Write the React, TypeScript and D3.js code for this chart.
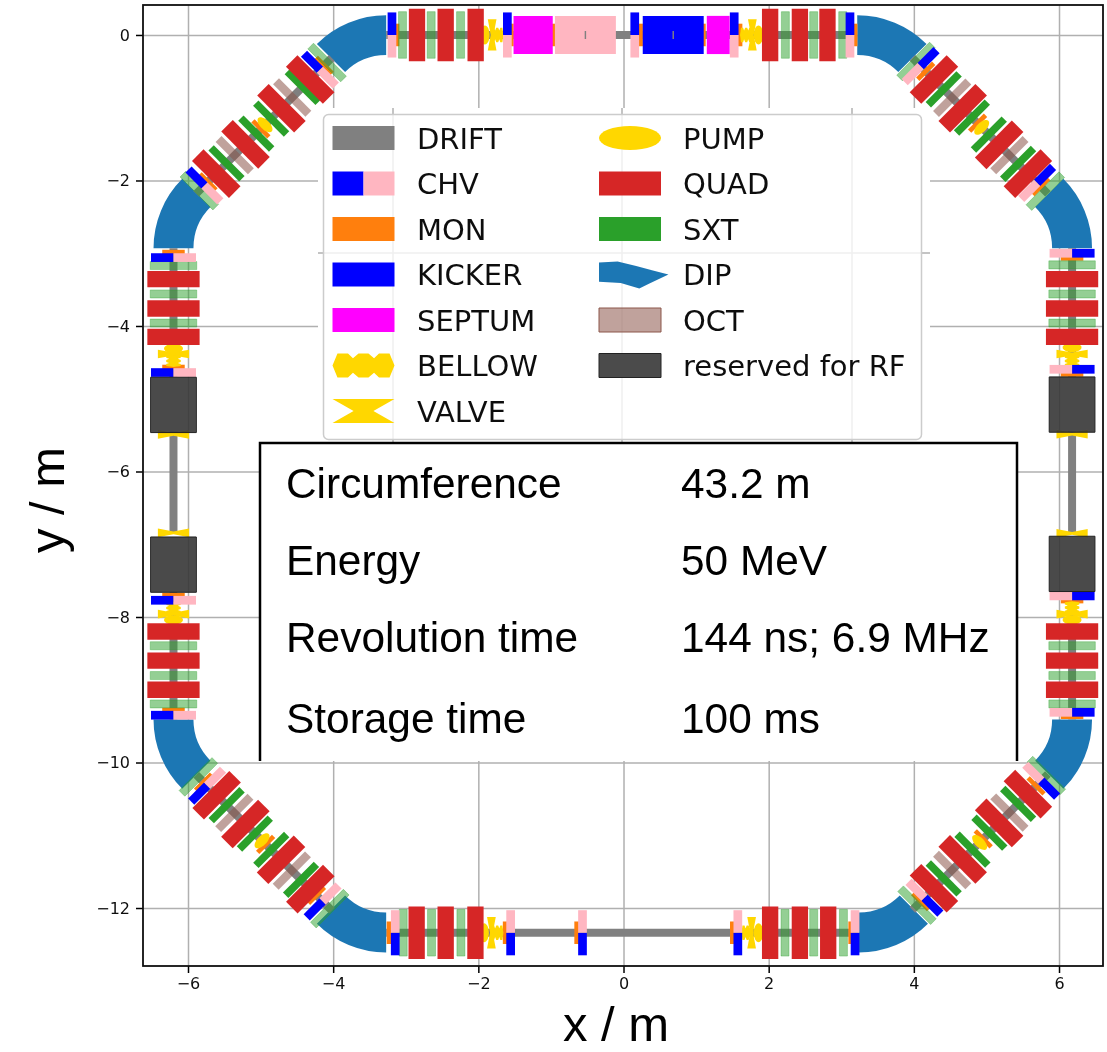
// App.tsx - storage ring layout, lattice positions (metres)
import React, { useEffect, useRef } from 'react';
import * as d3 from 'd3';

const xTicks = [-6, -4, -2, 0, 2, 4, 6];
const yTicks = [0, -2, -4, -6, -8, -10, -12];

// each list: [element, position along the section in metres]
const topStraight = [
  ['CHV', -3.19], ['MON', -3.12], ['SXT_L', -3.045], ['QUAD', -2.845], ['SXT_L', -2.65], ['QUAD', -2.45],
  ['SXT_L', -2.245], ['QUAD', -2.037], ['PUMP', -1.91], ['VALVE', -1.81], ['BELLOW', -1.74], ['CHV', -1.6],
  ['MON', -1.545], ['MON', -0.97], ['SEPTUM', -1.245], ['CHV_BLOCK', -0.525], ['TICK', -0.525],
  ['CHV', 0.155], ['MON', 0.235], ['MON', 1.1], ['KICKER', 0.685], ['TICK', 0.685], ['SEPTUM_S', 1.305],
  ['CHV', 1.525], ['MON', 1.605], ['BELLOW', 1.69], ['VALVE', 1.775], ['PUMP', 1.86], ['QUAD', 2.02],
  ['SXT_L', 2.23], ['QUAD', 2.43], ['SXT_L', 2.62], ['QUAD', 2.81], ['SXT_L', 3.02], ['CHV', 3.12], ['MON', 3.19],
];
const bottomStraight = [
  ['MON', -3.23], ['CHV', -3.145], ['SXT_L', -3.035], ['QUAD', -2.85], ['SXT_L', -2.645], ['QUAD', -2.45],
  ['SXT_L', -2.24], ['QUAD', -2.04], ['PUMP', -1.92], ['VALVE', -1.82], ['BELLOW', -1.74], ['MON', -1.63],
  ['CHV', -1.555], ['MON', -0.645], ['CHV', -0.565], ['MON', 1.5], ['CHV', 1.575], ['BELLOW', 1.71],
  ['VALVE', 1.765], ['PUMP', 1.86], ['QUAD', 2.02], ['SXT_L', 2.225], ['QUAD', 2.43], ['SXT_L', 2.62],
  ['QUAD', 2.82], ['SXT_L', 3.03], ['MON', 3.13], ['CHV', 3.19],
];
const leftStraight = [
  ['MON', -2.985], ['CHV', -3.06], ['SXT_L', -3.17], ['QUAD', -3.355], ['SXT_L', -3.56], ['QUAD', -3.76],
  ['SXT_L', -3.96], ['QUAD', -4.15], ['PUMP', -4.31], ['VALVE', -4.385], ['BELLOW', -4.48], ['MON', -4.565],
  ['CHV', -4.64], ['RF', -5.085], ['VALVE', -5.49], ['VALVE', -6.845], ['RF', -7.28], ['MON', -7.7], ['CHV', -7.77],
  ['BELLOW', -7.875], ['VALVE', -7.96], ['PUMP', -8.04], ['QUAD', -8.2], ['SXT_L', -8.395], ['QUAD', -8.6],
  ['SXT_L', -8.805], ['QUAD', -9.0], ['SXT_L', -9.195], ['MON', -9.28], ['CHV', -9.35],
];
const rightStraight = [
  ['CHV', -3.0], ['MON', -3.07], ['SXT_L', -3.16], ['QUAD', -3.355], ['SXT_L', -3.56], ['QUAD', -3.76],
  ['SXT_L', -3.96], ['QUAD', -4.15], ['PUMP', -4.295], ['VALVE', -4.385], ['BELLOW', -4.48], ['CHV', -4.595],
  ['MON', -4.665], ['RF', -5.08], ['VALVE', -5.485], ['VALVE', -6.85], ['RF', -7.27], ['CHV', -7.71], ['MON', -7.78],
  ['BELLOW', -7.87], ['VALVE', -7.96], ['PUMP', -8.04], ['QUAD', -8.2], ['SXT_L', -8.395], ['QUAD', -8.6],
  ['SXT_L', -8.805], ['QUAD', -9.0], ['SXT_L', -9.195], ['CHV', -9.31], ['MON', -9.37],
];
const topLeftArc = [
  ['SXT_L', 0.09], ['MON', 0.146], ['CHV', 0.23], ['QUAD', 0.42], ['SXT', 0.565], ['OCT', 0.77], ['QUAD', 0.98],
  ['SXT', 1.18], ['PUMP', 1.3], ['MON', 1.38], ['SXT', 1.47], ['QUAD', 1.68], ['OCT', 1.89], ['SXT', 2.05],
  ['QUAD', 2.25], ['MON', 2.41], ['CHV', 2.48], ['SXT_L', 2.58],
];
const topRightArc = [
  ['SXT_L', 0.07], ['CHV', 0.16], ['MON', 0.26], ['QUAD', 0.42], ['SXT', 0.61], ['OCT', 0.775], ['QUAD', 0.98],
  ['SXT', 1.16], ['MON', 1.27], ['PUMP', 1.35], ['SXT', 1.49], ['QUAD', 1.69], ['OCT', 1.89], ['SXT', 2.06],
  ['QUAD', 2.25], ['CHV', 2.43], ['MON', 2.5], ['SXT_L', 2.59],
];
const bottomLeftArc = [
  ['SXT_L', 0.04], ['MON', 0.14], ['CHV', 0.21], ['QUAD', 0.395], ['SXT', 0.59], ['OCT', 0.74], ['QUAD', 0.955],
  ['SXT', 1.14], ['PUMP', 1.28], ['MON', 1.35], ['SXT', 1.46], ['QUAD', 1.65], ['OCT', 1.86], ['SXT', 2.04],
  ['QUAD', 2.22], ['MON', 2.34], ['CHV', 2.46], ['SXT_L', 2.6],
];
const bottomRightArc = [
  ['SXT_L', 0.09], ['MON', 0.16], ['CHV', 0.235], ['QUAD', 0.42], ['SXT', 0.61], ['OCT', 0.775], ['QUAD', 0.98],
  ['SXT', 1.17], ['PUMP', 1.31], ['MON', 1.38], ['SXT', 1.5], ['QUAD', 1.69], ['OCT', 1.89], ['SXT', 2.06],
  ['QUAD', 2.25], ['MON', 2.41], ['CHV', 2.51], ['SXT_L', 2.61],
];

// centre x, centre y, start angle, end angle (degrees, clockwise from up)
const dipoles = [
  [-3.27, -1.075, -45, 0], [-5.125, -2.93, -90, -45],
  [3.22, -1.075, 0, 45], [5.105, -2.93, 45, 90],
  [-3.27, -11.265, 180, 225], [-5.125, -9.41, 225, 270],
  [3.24, -11.265, 135, 180], [5.105, -9.41, 90, 135],
];

const legendLeft = ['DRIFT', 'CHV', 'MON', 'KICKER', 'SEPTUM', 'BELLOW', 'VALVE'];
const legendRight = ['PUMP', 'QUAD', 'SXT', 'DIP', 'OCT', 'reserved for RF'];

const tableNames = ['Circumference', 'Energy', 'Revolution time', 'Storage time'];
const tableValues = ['43.2 m', '50 MeV', '144 ns; 6.9 MHz', '100 ms'];

const S = Math.SQRT1_2;
const sideDrifts = [[-4.7, -2.93], [-6.85, -5.45], [-9.41, -7.66]];
const sections = [
  { items: topStraight, origin: [0, 0], dir: [1, 0], out: [0, 1], drifts: [[-3.27, 3.22]] },
  { items: bottomStraight, origin: [0, -12.34], dir: [1, 0], out: [0, -1], drifts: [[-3.27, 3.24]] },
  { items: leftStraight, origin: [-6.2, 0], dir: [0, 1], out: [-1, 0], drifts: sideDrifts },
  { items: rightStraight, origin: [6.18, 0], dir: [0, 1], out: [1, 0], drifts: sideDrifts },
  { items: topLeftArc, origin: [-4.02, -0.315], dir: [-S, -S], out: [-S, S], drifts: [[0, 2.64]] },
  { items: topRightArc, origin: [3.98, -0.315], dir: [S, -S], out: [S, S], drifts: [[0, 2.64]] },
  { items: bottomLeftArc, origin: [-5.885, -10.17], dir: [S, -S], out: [-S, -S], drifts: [[0, 2.64]] },
  { items: bottomRightArc, origin: [3.98, -12.025], dir: [S, S], out: [S, -S], drifts: [[0, 2.64]] },
];

const rect = [[-0.5, -0.5], [0.5, -0.5], [0.5, 0.5], [-0.5, 0.5]];
const outerHalf = [[-0.5, 0], [0.5, 0], [0.5, 0.5], [-0.5, 0.5]];
const innerHalf = [[-0.5, -0.5], [0.5, -0.5], [0.5, 0], [-0.5, 0]];
const leftHalf = [[-0.5, -0.5], [0, -0.5], [0, 0.5], [-0.5, 0.5]];
const rightHalf = [[0, -0.5], [0.5, -0.5], [0.5, 0.5], [0, 0.5]];
const ellipse = d3.range(32).map(i => [0.5 * Math.cos((i / 32) * 2 * Math.PI), 0.5 * Math.sin((i / 32) * 2 * Math.PI)]);
const bowtie = [[-0.5, -0.5], [0.5, -0.5], [0.16, 0], [0.5, 0.5], [-0.5, 0.5], [-0.16, 0]];
const bellow = [
  [-0.5, 0], [-0.42, -0.5], [-0.25, -0.5], [-0.17, -0.3], [-0.08, -0.5], [0.08, -0.5], [0.17, -0.3],
  [0.25, -0.5], [0.42, -0.5], [0.5, 0], [0.42, 0.5], [0.25, 0.5], [0.17, 0.3], [0.08, 0.5], [-0.08, 0.5],
  [-0.17, 0.3], [-0.25, 0.5], [-0.42, 0.5],
];
const dipGlyph = [[-0.5, -0.5], [-0.2, -0.54], [0.1, -0.35], [0.62, 0], [0.15, 0.58], [-0.15, 0.35], [-0.5, 0.3]];

// along-beam length, transverse width, shape, fill, opacity; listed in paint order
const KINDS = {
  MON: { L: 0.065, W: 0.31, shape: rect, fill: '#ff7f0e' },
  BELLOW: { L: 0.17, W: 0.2, shape: bellow, fill: '#ffd700' },
  VALVE: { L: 0.12, W: 0.43, shape: bowtie, fill: '#ffd700' },
  PUMP: { L: 0.13, W: 0.26, shape: ellipse, fill: '#ffd700' },
  SXT_L: { L: 0.11, W: 0.64, shape: rect, fill: '#2ca02c', opacity: 0.5, stroke: '#2ca02c', strokeOpacity: 0.35 },
  SXT: { L: 0.105, W: 0.6, shape: rect, fill: '#2ca02c' },
  OCT: { L: 0.115, W: 0.63, shape: rect, fill: '#8c564b', opacity: 0.55 },
  CHV_OUT: { L: 0.12, W: 0.62, shape: outerHalf, fill: '#0000ff' },
  CHV_IN: { L: 0.12, W: 0.62, shape: innerHalf, fill: '#ffb6c1' },
  QUAD: { L: 0.225, W: 0.72, shape: rect, fill: '#d62728' },
  RF: { L: 0.76, W: 0.63, shape: rect, fill: '#333333', opacity: 0.88, stroke: '#222' },
  SEPTUM: { L: 0.54, W: 0.525, shape: rect, fill: '#ff00ff' },
  SEPTUM_S: { L: 0.315, W: 0.525, shape: rect, fill: '#ff00ff' },
  KICKER: { L: 0.84, W: 0.525, shape: rect, fill: '#0000ff' },
  CHV_BLOCK: { L: 0.84, W: 0.525, shape: rect, fill: '#ffb6c1' },
  TICK: { L: 0.02, W: 0.11, shape: rect, fill: '#808080' },
};

const LEGEND_PATCH = {
  DRIFT: [[rect, '#808080']],
  CHV: [[leftHalf, '#0000ff'], [rightHalf, '#ffb6c1']],
  MON: [[rect, '#ff7f0e']],
  KICKER: [[rect, '#0000ff']],
  SEPTUM: [[rect, '#ff00ff']],
  BELLOW: [[bellow, '#ffd700']],
  VALVE: [[bowtie, '#ffd700']],
  PUMP: [[ellipse, '#ffd700']],
  QUAD: [[rect, '#d62728']],
  SXT: [[rect, '#2ca02c']],
  DIP: [[dipGlyph, '#1f77b4']],
  OCT: [[rect, '#8c564b', 0.55, '#8c564b']],
  'reserved for RF': [[rect, '#333333', 0.88, '#222']],
};

const App = () => {
  const svgRef = useRef(null);

  useEffect(() => {
    const svg = d3.select(svgRef.current);
    svg.selectAll('*').remove();

    const width = 1107;
    const height = 1052;
    const box = { left: 143, right: 1103, top: 5, bottom: 966 };

    const x = d3.scaleLinear().domain([-6.62, 6.606]).range([box.left, box.right]);
    const y = d3.scaleLinear().domain([0.412, -12.797]).range([box.top, box.bottom]);
    const k = x(1) - x(0);

    svg.attr('viewBox', `0 0 ${width} ${height}`);

    svg.append('defs').append('filter').attr('id', 'soft')
      .attr('filterUnits', 'userSpaceOnUse')
      .attr('x', 0).attr('y', 0).attr('width', width).attr('height', height)
      .append('feGaussianBlur').attr('stdDeviation', 0.7);

    svg.append('rect').attr('width', width).attr('height', height).attr('fill', '#fff');

    const plot = svg.append('g').attr('filter', 'url(#soft)');

    // grid
    plot.append('g')
      .attr('transform', `translate(0,${box.bottom})`)
      .call(d3.axisBottom(x).tickValues(xTicks).tickSize(-(box.bottom - box.top)).tickFormat(''))
      .call(g => g.select('.domain').remove())
      .selectAll('line').attr('stroke', '#b0b0b0').attr('stroke-width', 1.5);
    plot.append('g')
      .attr('transform', `translate(${box.left},0)`)
      .call(d3.axisLeft(y).tickValues(yTicks).tickSize(-(box.right - box.left)).tickFormat(''))
      .call(g => g.select('.domain').remove())
      .selectAll('line').attr('stroke', '#b0b0b0').attr('stroke-width', 1.5);

    // dipoles
    const arc = d3.arc().innerRadius(0.8 * k).outerRadius(1.35 * k);
    plot.append('g').selectAll('path').data(dipoles).join('path')
      .attr('transform', d => `translate(${x(d[0])},${y(d[1])})`)
      .attr('d', d => arc({ startAngle: (d[2] * Math.PI) / 180, endAngle: (d[3] * Math.PI) / 180 }))
      .attr('fill', '#1f77b4');

    const outline = d3.line().x(p => x(p[0])).y(p => y(p[1]));
    const place = (sec, s, t) => [
      sec.origin[0] + sec.dir[0] * s + sec.out[0] * t,
      sec.origin[1] + sec.dir[1] * s + sec.out[1] * t,
    ];
    const markPath = (sec, kind, s) => {
      const m = KINDS[kind];
      return outline(m.shape.map(p => place(sec, s + p[0] * m.L, p[1] * m.W))) + 'Z';
    };

    // drift tube under everything
    const drifts = plot.append('g');
    sections.forEach(sec => {
      sec.drifts.forEach(d => {
        drifts.append('path')
          .attr('d', outline([place(sec, d[0], 0), place(sec, d[1], 0)]))
          .attr('stroke', '#808080').attr('stroke-width', 0.11 * k).attr('fill', 'none');
      });
    });

    // elements, one layer per kind so the overlaps stack like the original
    Object.keys(KINDS).forEach(kind => {
      const layer = plot.append('g');
      sections.forEach(sec => {
        sec.items.forEach(([name, s]) => {
          const match = name === kind || (name === 'CHV' && (kind === 'CHV_OUT' || kind === 'CHV_IN'));
          if (!match) return;
          layer.append('path')
            .attr('d', markPath(sec, kind, s))
            .attr('fill', KINDS[kind].fill)
            .attr('fill-opacity', KINDS[kind].opacity ?? 1)
            .attr('stroke', KINDS[kind].stroke ?? 'none')
            .attr('stroke-opacity', KINDS[kind].strokeOpacity ?? 1);
        });
      });
    });

    // spines and ticks
    const tickFont = g => g.selectAll('text')
      .style('font-family', '"DejaVu Sans"').style('font-size', '16px').attr('fill', '#111');
    plot.append('g')
      .attr('transform', `translate(0,${box.bottom})`)
      .call(d3.axisBottom(x).tickValues(xTicks).tickSize(7).tickPadding(5).tickSizeOuter(0).tickFormat(d3.format('d')))
      .call(tickFont)
      .call(g => g.select('.domain').remove())
      .selectAll('line').attr('stroke', '#000').attr('stroke-width', 1.5);
    plot.append('g')
      .attr('transform', `translate(${box.left},0)`)
      .call(d3.axisLeft(y).tickValues(yTicks).tickSize(7).tickPadding(6).tickSizeOuter(0).tickFormat(d3.format('d')))
      .call(tickFont)
      .call(g => g.select('.domain').remove())
      .selectAll('line').attr('stroke', '#000').attr('stroke-width', 1.5);
    plot.append('rect')
      .attr('x', box.left).attr('y', box.top)
      .attr('width', box.right - box.left).attr('height', box.bottom - box.top)
      .attr('fill', 'none').attr('stroke', '#111').attr('stroke-width', 1.8);

    // legend was pasted from another figure: white crop with that figure's own faint grid
    const legend = plot.append('g');
    legend.append('rect').attr('x', 318).attr('y', 108).attr('width', 612).attr('height', 335).attr('fill', '#fff');
    [393, 622, 852].forEach(px => {
      legend.append('line').attr('x1', px).attr('x2', px).attr('y1', 108).attr('y2', 443)
        .attr('stroke', '#b0b0b0').attr('stroke-width', 1.5);
    });
    legend.append('line').attr('x1', 318).attr('x2', 930).attr('y1', 253).attr('y2', 253)
      .attr('stroke', '#b0b0b0').attr('stroke-width', 1.5);
    legend.append('rect').attr('x', 323.5).attr('y', 114.5).attr('width', 598).attr('height', 325).attr('rx', 5)
      .attr('fill', '#fff').attr('fill-opacity', 0.8).attr('stroke', '#ccc').attr('stroke-width', 1.5);

    const rowY = d3.scaleLinear().domain([0, 6]).range([138, 411]);
    const glyphLine = d3.line();

    const drawLegendCol = (names, patchX, textX) => {
      names.forEach((name, i) => {
        LEGEND_PATCH[name].forEach(([shape, fill, opacity, stroke]) => {
          legend.append('path')
            .attr('d', glyphLine(shape.map(p => [patchX + 31 + p[0] * 62, rowY(i) + p[1] * 24])) + 'Z')
            .attr('fill', fill)
            .attr('fill-opacity', opacity ?? 1)
            .attr('stroke', stroke ?? 'none');
        });
        legend.append('text')
          .attr('x', textX).attr('y', rowY(i) + 10.5)
          .attr('fill', '#111')
          .style('font-family', '"DejaVu Sans"').style('font-size', '29px')
          .text(name);
      });
    };
    drawLegendCol(legendLeft, 332.5, 417);
    drawLegendCol(legendRight, 599, 683);

    // parameter table, bottom edge hidden behind the picture
    const table = svg.append('g');
    table.append('rect').attr('x', 260).attr('y', 443).attr('width', 757).attr('height', 318).attr('fill', '#fff');
    table.append('path').attr('d', 'M260,761V443H1017V761').attr('fill', 'none').attr('stroke', '#000').attr('stroke-width', 2.5);
    const tableY = [498, 575, 652, 733];
    tableNames.forEach((name, i) => {
      table.append('text').attr('x', 286).attr('y', tableY[i]).text(name);
      table.append('text').attr('x', 681).attr('y', tableY[i]).text(tableValues[i]);
    });
    table.selectAll('text')
      .style('font-family', '"Liberation Sans"').style('font-size', '42.4px').attr('fill', '#000');

    // axis titles
    svg.append('text').attr('x', 616).attr('y', 1041).attr('text-anchor', 'middle')
      .style('font-family', '"Liberation Sans"').style('font-size', '49px').text('x / m');
    svg.append('text').attr('transform', 'translate(64,500) rotate(-90)').attr('text-anchor', 'middle')
      .style('font-family', '"Liberation Sans"').style('font-size', '49px').text('y / m');
  }, []);

  return (
    <svg
      ref={svgRef}
      width={1107}
      height={1052}
      style={{ position: 'absolute', left: 0, top: 0 }}
    />
  );
};

export default App;
